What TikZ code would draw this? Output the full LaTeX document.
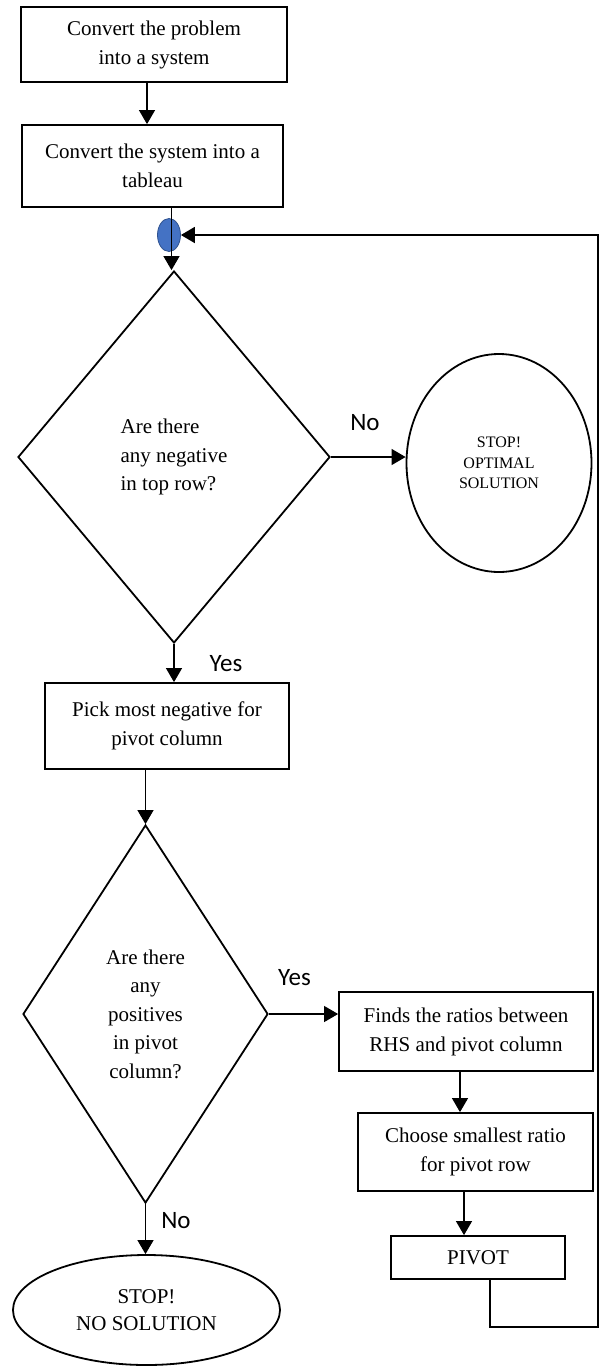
\documentclass[tikz,border=0pt]{standalone}
\usepackage{fontspec}
\setmainfont{Liberation Serif}
\newfontfamily\labfont{Carlito}
\usetikzlibrary{shapes.geometric,arrows.meta}
\definecolor{dotfill}{RGB}{68,114,196}
\definecolor{dotline}{RGB}{47,82,143}
\begin{document}
\begin{tikzpicture}[x=1pt,y=-1pt,
  box/.style={draw,line width=1.8pt,inner sep=0pt,align=center,font=\fontsize{21}{29}\selectfont},
  dec/.style={draw,diamond,line width=1.8pt,inner sep=0pt,font=\fontsize{21}{28.5}\selectfont},
  term/.style={draw,ellipse,line width=1.8pt,inner sep=0pt,align=center},
  tip/.style={-{Triangle[width=16pt,length=14pt]}},
  arr/.style={line width=1.1pt,tip},
  lbl/.style={font=\labfont\fontsize{25}{30}\selectfont,anchor=base,inner sep=0pt},
]
\useasboundingbox[fill=white] (0,0) rectangle (602,1369);

\node[box,minimum width=266pt,minimum height=75pt] (b1) at (154,44.5) {Convert the problem\\into a system};
\node[box,minimum width=261pt,minimum height=82pt] (b2) at (152.5,166) {Convert the system into a\\tableau};
\node[draw=dotline,fill=dotfill,ellipse,minimum width=23pt,minimum height=33pt,inner sep=0pt,line width=0.8pt] (dot) at (169,235) {};

\node[dec,align=left,minimum width=312pt,minimum height=372pt] (d1) at (174,457) {Are there\\any negative\\in top row?};
\node[term,minimum width=185pt,minimum height=218pt,font=\fontsize{16}{20.5}\selectfont] (e1) at (499,463) {STOP!\\OPTIMAL\\SOLUTION};

\node[box,minimum width=244pt,minimum height=86pt] (b3) at (167,726) {Pick most negative for\\pivot column};
\node[dec,align=center,minimum width=245pt,minimum height=378pt] (d2) at (145.5,1014) {Are there\\any\\positives\\in pivot\\column?};

\node[box,minimum width=254pt,minimum height=79pt] (b4) at (466,1031.5) {Finds the ratios between\\RHS and pivot column};
\node[box,minimum width=235pt,minimum height=78pt] (b5) at (475.5,1152) {Choose smallest ratio\\for pivot row};
\node[box,minimum width=174pt,minimum height=43pt] (pv) at (478,1257.5) {PIVOT};

\node[term,minimum width=267pt,minimum height=110pt,font=\fontsize{21}{27}\selectfont] (e2) at (146.5,1310) {STOP!\\NO SOLUTION};

\draw[arr] ([xshift=-7pt]b1.south) -- ([xshift=-7pt]b1.south |- b2.north);
\draw[arr] ([xshift=19pt]b2.south) -- ([xshift=19pt]b2.south |- d1.north);
\draw[arr] (d1.east) -- (d1.east -| e1.west);
\draw[arr] (d1.south) -- (d1.south |- b3.north);
\draw[arr] (d2.north |- b3.south) -- (d2.north);
\draw[arr] (d2.east) -- (d2.east -| b4.west);
\draw[arr] ([xshift=-6pt]b4.south) -- ([xshift=-6pt]b4.south |- b5.north);
\draw[arr] ([xshift=-14pt]pv.north |- b5.south) -- ([xshift=-14pt]pv.north);
\draw[arr] (d2.south) -- (d2.south |- e2.north);

\coordinate (lc1) at (598,1327);
\coordinate (lc2) at (598,235);
\draw[line width=1.8pt,tip] ([xshift=12pt]pv.south) |- (lc1) -- (lc2) -- (dot.east);

\node[lbl] (no1) at (365,430) {No};
\node[lbl] (yes1) at (226,671) {Yes};
\node[lbl] (yes2) at (294.5,985) {Yes};
\node[lbl] (no2) at (176,1228) {No};
\end{tikzpicture}
\end{document}
